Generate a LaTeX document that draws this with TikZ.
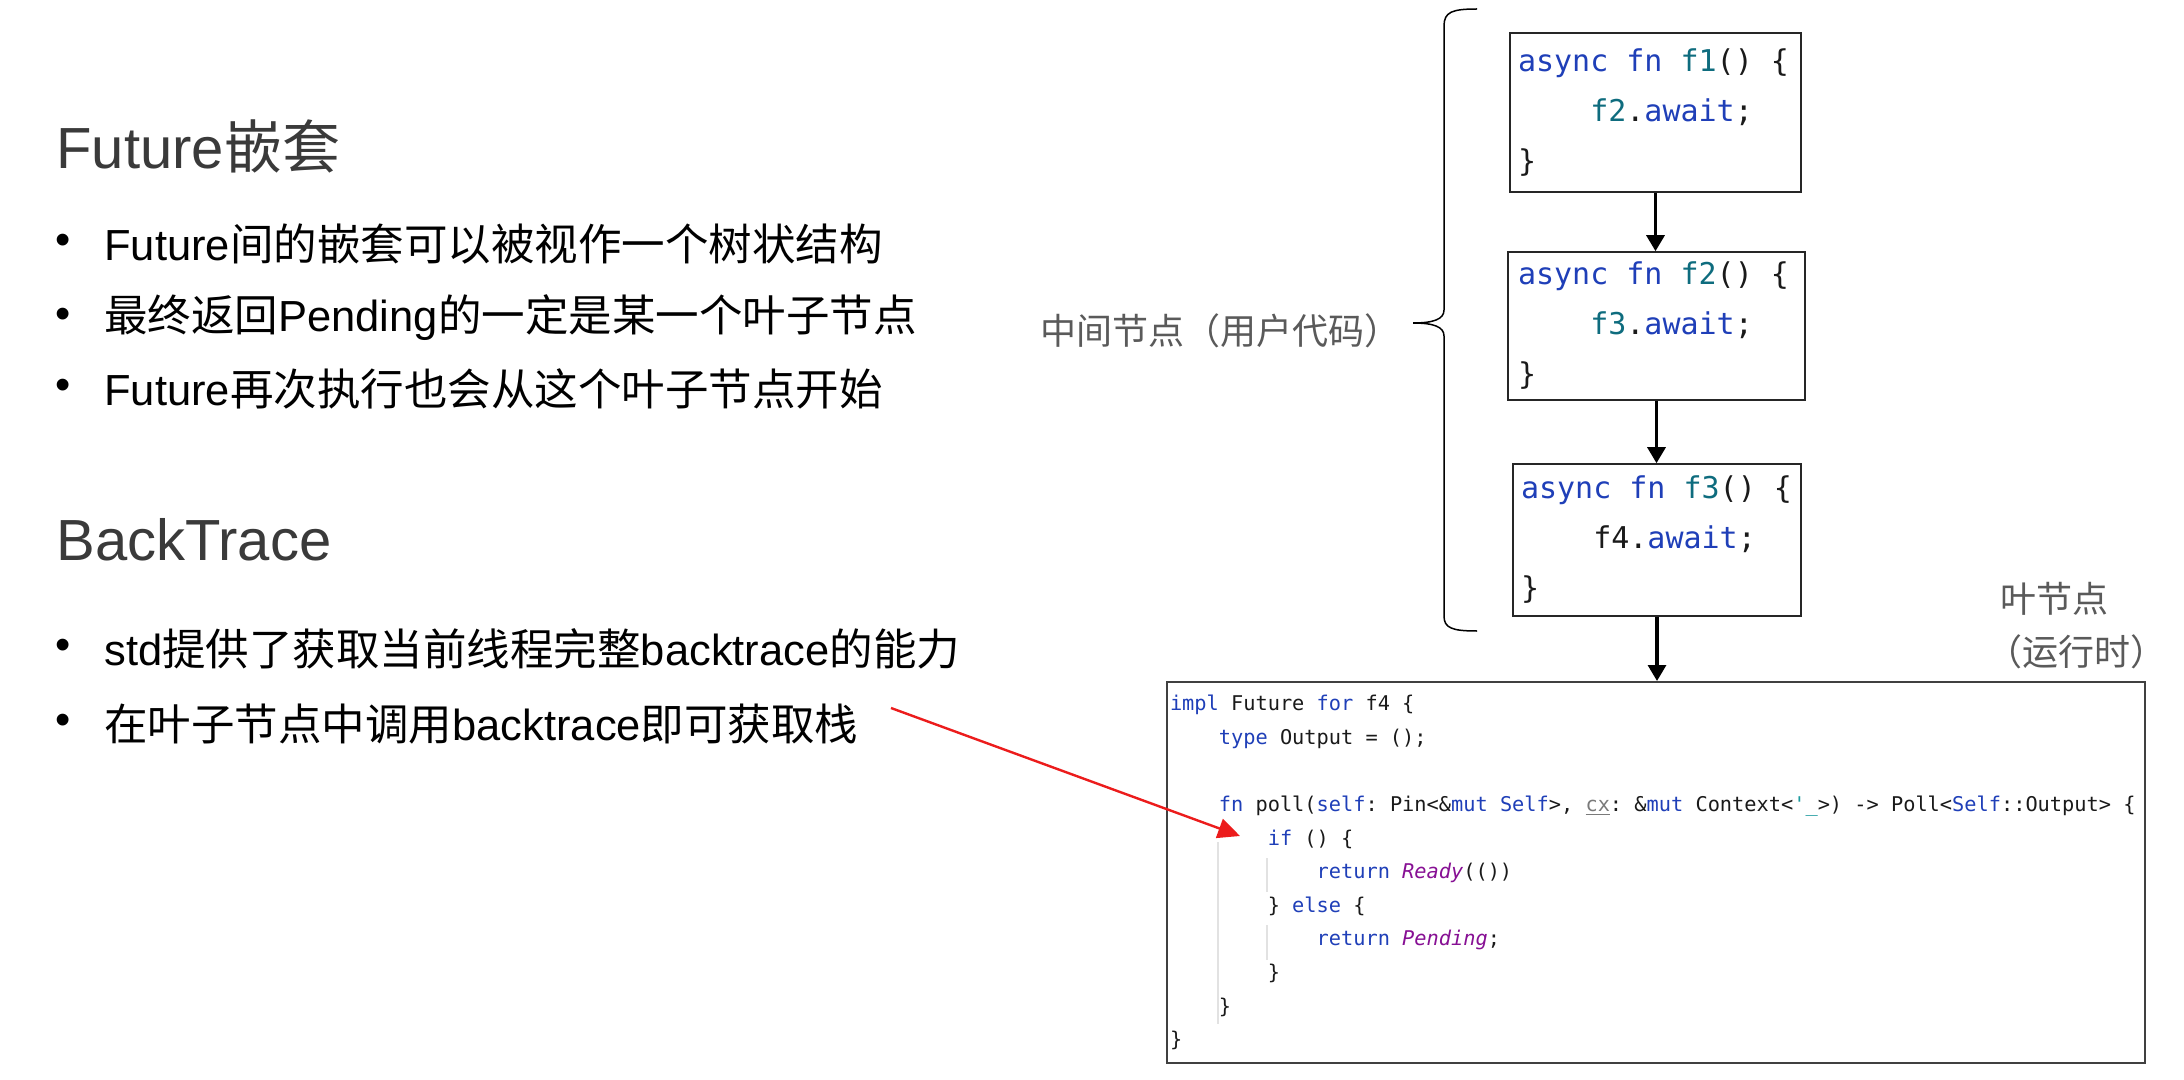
\documentclass[tikz,border=0pt]{standalone}
\usepackage{fontspec}
\setmainfont{Liberation Sans}
\newfontfamily\cjk{Noto Sans CJK SC}
\newfontfamily\codefont{DejaVu Sans Mono}[Ligatures=TeXOff]
\usetikzlibrary{arrows.meta}
\definecolor{kw}{HTML}{1F3FB8}
\definecolor{fnc}{HTML}{0E6C7E}
\definecolor{txt}{HTML}{1A1A1A}
\definecolor{purp}{HTML}{871094}
\definecolor{tealq}{HTML}{1C9A9E}
\definecolor{grcx}{HTML}{7A7A7A}
\definecolor{titlec}{HTML}{3A3A3A}
\definecolor{labelc}{HTML}{5A5A5A}
\definecolor{redarrow}{HTML}{EC1C1C}
\definecolor{guide}{HTML}{E2E2E2}
\newcommand{\ind}[1]{\leavevmode\hbox to #1\fontcharwd\font`x{}}
\newcommand{\monosp}{\frenchspacing\spaceskip=0pt\xspaceskip=0pt\relax}
\tikzset{
  titletext/.style={font=\fontsize{29pt}{34pt}\selectfont, text=titlec, anchor=west, inner sep=0pt},
  bullettext/.style={font=\fontsize{21.75pt}{26pt}\selectfont, text=black, anchor=west, inner sep=0pt},
  bulletdot/.style={font=\fontsize{21.75pt}{26pt}\selectfont, text=black, inner sep=0pt},
  sidelabel/.style={font=\cjk\fontsize{18pt}{22pt}\selectfont, text=labelc, inner sep=0pt},
  codebox/.style={draw=black!85, line width=0.8pt, align=left, inner ysep=0pt,
    font=\codefont\fontsize{15pt}{25pt}\selectfont, text=txt},
  leafbox/.style={draw=black!75, line width=1pt, align=left, inner xsep=1.5pt, inner ysep=0pt,
    font=\codefont\fontsize{10.15pt}{16.8pt}\selectfont, text=txt,
    text width=486pt, minimum height=190.5pt},
  flow/.style={-{Triangle[width=9pt,length=8pt]}, line width=1.6pt, black},
  pointer/.style={-{Triangle[width=10pt,length=11pt]}, line width=1.2pt, redarrow},
  bracepath/.style={line width=0.75pt, black},
  guideline/.style={line width=0.8pt, guide}
}
\begin{document}
\begin{tikzpicture}[x=0.5pt, y=-0.5pt]
\fill[white] (0,0) rectangle (2184,1080);
\useasboundingbox (0,0) rectangle (2184,1080);

% left text
\node[titletext] (t1) at (56,146) {Future{\cjk 嵌套}};
\node[bulletdot] (d1) at (63,244) {•};
\node[bullettext] (l1) at (104,244) {Future{\cjk 间的嵌套可以被视作一个树状结构}};
\node[bulletdot] (d2) at (63,318) {•};
\node[bullettext] (l2) at (104,318) {{\cjk 最终返回}Pending{\cjk 的一定是某一个叶子节点}};
\node[bulletdot] (d3) at (63,389) {•};
\node[bullettext] (l3) at (104,389) {Future{\cjk 再次执行也会从这个叶子节点开始}};

\node[titletext] (t2) at (56,540) {BackTrace};
\node[bulletdot] (d4) at (63,649) {•};
\node[bullettext] (l4) at (104,649) {std{\cjk 提供了获取当前线程完整}backtrace{\cjk 的能力}};
\node[bulletdot] (d5) at (63,724) {•};
\node[bullettext] (l5) at (104,724) {{\cjk 在叶子节点中调用}backtrace{\cjk 即可获取栈}};

% code boxes
\node[codebox, inner xsep=4pt, text width=137.5pt, minimum height=79.5pt] (b1) at (1655.5,112.5)
 {\monosp\leavevmode{\color{kw}async fn }{\color{fnc}f1}() \{\\
  \ind{4}{\color{fnc}f2}.{\color{kw}await};\\
  \}};
\node[codebox, inner xsep=5pt, text width=138.5pt, minimum height=74pt] (b2) at (1656.5,326)
 {\monosp\leavevmode{\color{kw}async fn }{\color{fnc}f2}() \{\\
  \ind{4}{\color{fnc}f3}.{\color{kw}await};\\
  \}};
\node[codebox, inner xsep=4pt, text width=136pt, minimum height=76pt] (b3) at (1657,540)
 {\monosp\leavevmode{\color{kw}async fn }{\color{fnc}f3}() \{\\
  \ind{4}f4.{\color{kw}await};\\
  \}};

\node[leafbox] (leaf) at (1656,872.5)
 {\monosp\leavevmode{\color{kw}impl} Future {\color{kw}for} f4 \{\\
  \ind{4}{\color{kw}type} Output = ();\\
  \mbox{}\\
  \ind{4}{\color{kw}fn} poll({\color{kw}self}: Pin<\&{\color{kw}mut} {\color{kw}Self}>, {\color{grcx}\underline{cx}}: \&{\color{kw}mut} Context<{\color{tealq}'\_}>) -> Poll<{\color{kw}Self}::Output> \{\\
  \ind{8}{\color{kw}if} () \{\\
  \ind{12}{\color{kw}return} {\color{purp}\itshape Ready}(())\\
  \ind{8}\} {\color{kw}else} \{\\
  \ind{12}{\color{kw}return} {\color{purp}\itshape Pending};\\
  \ind{8}\}\\
  \ind{4}\}\\
  \}};

% indent guides
\draw[guideline] (1218,842) -- (1218,1024);
\draw[guideline] (1267,858) -- (1267,892);
\draw[guideline] (1267,925) -- (1267,960);

% connectors
\draw[flow] (b1.south) -- (b1.south |- b2.north);
\draw[flow] (b2.south) -- (b2.south |- b3.north);
\draw[flow] (b3.south) -- (b3.south |- leaf.north);

% labels
\node[sidelabel] (mid) at (1220,331) {中间节点（用户代码）};
\node[sidelabel, anchor=west] (leafl1) at (2000,599) {叶节点};
\node[sidelabel, anchor=west] (leafl2) at (1986,652) {（运行时）};

% brace
\coordinate (bt) at (1477,9);
\coordinate (bb) at (1477,631);
\coordinate (btip) at (1413,323);
\draw[bracepath] (bt) .. controls (1452,9) and (1444,12) .. (1444,26) -- (1444,310)
  .. controls (1444,319) and (1434,323) .. (btip)
  .. controls (1434,323) and (1444,327) .. (1444,336) -- (1444,616)
  .. controls (1444,628) and (1452,631) .. (bb);

% red pointer
\coordinate (rs) at (891,708);
\coordinate (re) at (1240,836);
\draw[pointer] (rs) -- (re);
\end{tikzpicture}
\end{document}
